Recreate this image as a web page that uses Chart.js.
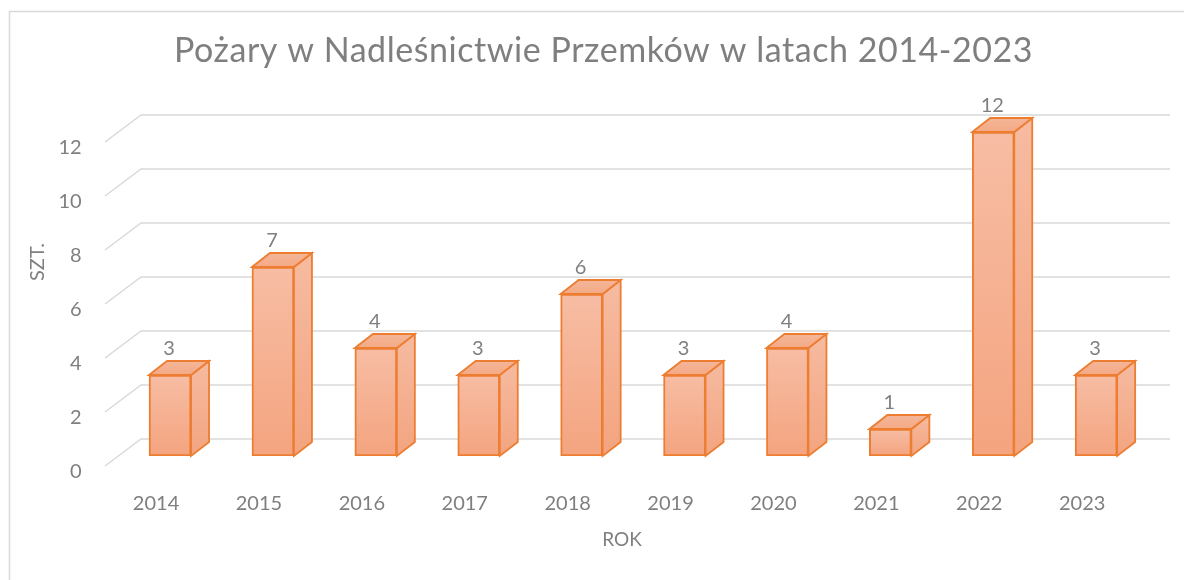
<!DOCTYPE html>
<html><head><meta charset="utf-8">
<style>html,body{margin:0;padding:0;background:#fff}canvas{display:block}</style>
<script src="https://cdn.jsdelivr.net/npm/chart.js@4"></script></head>
<body><canvas id="c" width="1184" height="580"></canvas>
<script>
const titleText = 'Pożary w Nadleśnictwie Przemków w latach 2014-2023';
const xTitle = 'ROK';
const yTitle = 'SZT.';
const categories = ['2014','2015','2016','2017','2018','2019','2020','2021','2022','2023'];
const fires = [3,7,4,3,6,3,4,1,12,3];
const yTicks = [0,2,4,6,8,10,12];
const FONT = 'Lato, "Open Sans", sans-serif';
const GREY = '#7f7f7f', GRID = '#d9d9d9', EDGE = '#ed7d31';
const DX = 18, DY = 14;

function grad(c, y0, y1, a, b){
  if (!Number.isFinite(y0) || !Number.isFinite(y1)) return b;
  const g = c.createLinearGradient(0, y0, 0, y1);
  g.addColorStop(0, a); g.addColorStop(1, b); return g;
}
const box3d = {
  id: 'box3d',
  beforeDatasetsDraw(chart){
    const c = chart.ctx, y = chart.scales.y;
    c.save();
    c.strokeStyle = GRID; c.lineWidth = 1.5;
    for (const t of y.ticks){
      const p = y.getPixelForValue(t.value);
      c.beginPath();
      c.moveTo(105, p + 10);
      c.lineTo(141, p - 17);
      c.lineTo(1170, p - 17);
      c.stroke();
    }
    c.restore();
  },
  afterDatasetsDraw(chart){
    const c = chart.ctx;
    const meta = chart.getDatasetMeta(0);
    c.save();
    c.strokeStyle = EDGE; c.lineWidth = 1.8; c.lineJoin = 'miter';
    meta.data.forEach((b, i) => {
      const l = b.x - b.width/2, r = b.x + b.width/2, t = b.y, B = b.base;
      c.beginPath();
      c.moveTo(r, t); c.lineTo(r+DX, t-DY); c.lineTo(r+DX, B-DY); c.lineTo(r, B); c.closePath();
      c.fillStyle = grad(c, t-DY, B, '#f6bba1', '#f3a47f');
      c.fill(); c.stroke();
      c.beginPath();
      c.moveTo(l, t); c.lineTo(l+DX, t-DY); c.lineTo(r+DX, t-DY); c.lineTo(r, t); c.closePath();
      c.fillStyle = grad(c, t-DY, t, '#f4b698', '#f4a985');
      c.fill(); c.stroke();
      c.fillStyle = GREY; c.font = '20px ' + FONT;
      c.textAlign = 'center'; c.textBaseline = 'middle';
      c.fillText(String(fires[i]), b.x - 1, t - 26.5);
    });
    c.restore();
  },
  afterDraw(chart){
    const c = chart.ctx;
    c.save();
    c.strokeStyle = GRID; c.lineWidth = 1.5;
    c.beginPath(); c.moveTo(9.5, 580); c.lineTo(9.5, 11.5); c.lineTo(1184, 11.5); c.stroke();
    c.fillStyle = GREY; c.textAlign = 'center'; c.textBaseline = 'middle';
    c.font = '34px ' + FONT;
    c.letterSpacing = '0.55px';
    c.fillText(titleText, 603.5, 51);
    c.letterSpacing = '0px';
    c.font = '19px ' + FONT;
    c.fillText(xTitle, 622, 540);
    c.font = '20px ' + FONT;
    c.translate(38, 262); c.rotate(-Math.PI/2);
    c.fillText(yTitle, 0, 0);
    c.restore();
  }
};
const noPad = s => { s.paddingLeft = s.paddingRight = s.paddingTop = s.paddingBottom = 0; };
new Chart(document.getElementById('c'), {
  type: 'bar',
  data: { labels: categories, datasets: [{
    data: fires,
    barThickness: 42,
    borderColor: EDGE, borderWidth: 2, borderSkipped: false,
    backgroundColor(ctx){
      const ch = ctx.chart;
      if (!ch.scales || !ch.scales.y || !ctx.parsed) return '#f5b08f';
      return grad(ch.ctx, ch.scales.y.getPixelForValue(ctx.parsed.y), ch.scales.y.getPixelForValue(0), '#f7bda4', '#f4a47f');
    }
  }]},
  options: {
    responsive: false, animation: false, devicePixelRatio: 1,
    layout: { padding: { left: 0, right: 36.4, top: 132, bottom: 60 } },
    plugins: { legend: { display: false }, title: { display: false }, tooltip: { enabled: false } },
    scales: {
      x: {
        grid: { display: false }, border: { display: false },
        ticks: { color: GREY, font: { family: FONT, size: 20 }, labelOffset: -14, padding: 28, maxRotation: 0, autoSkip: false },
        afterFit(s){ s.height = 64; noPad(s); }
      },
      y: {
        min: 0, max: 12, afterBuildTicks(s){ s.ticks = yTicks.map(v => ({ value: v })); },
        grid: { display: false }, border: { display: false },
        ticks: { color: GREY, font: { family: FONT, size: 20 }, labelOffset: 16, padding: 29 },
        afterFit(s){ s.width = 118.6; noPad(s); }
      }
    }
  },
  plugins: [box3d]
});
</script></body></html>
